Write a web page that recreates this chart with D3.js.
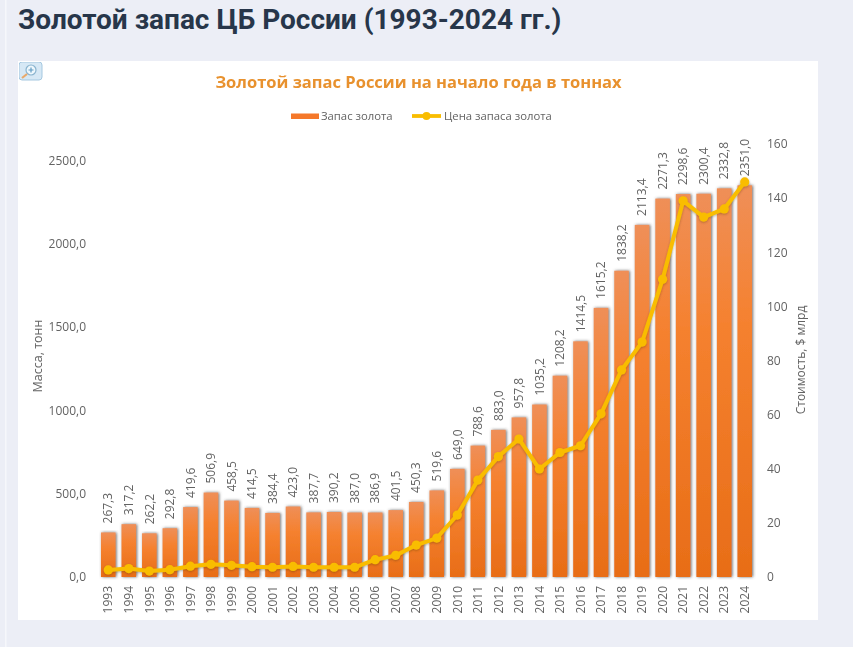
<!DOCTYPE html>
<html>
<head>
<meta charset="utf-8">
<script src="https://cdn.jsdelivr.net/npm/d3@7"></script>
<style>
  html, body { margin: 0; padding: 0; background: #eceef6; overflow: hidden; }
  svg { display: block; }
  text { font-family: "Open Sans", sans-serif; }
</style>
</head>
<body>
<div id="chart"></div>
<script>
var years = [1993, 1994, 1995, 1996, 1997, 1998, 1999, 2000, 2001, 2002, 2003, 2004, 2005, 2006, 2007, 2008,
    2009, 2010, 2011, 2012, 2013, 2014, 2015, 2016, 2017, 2018, 2019, 2020, 2021, 2022, 2023, 2024];
var goldTonnes = [267.3, 317.2, 262.2, 292.8, 419.6, 506.9, 458.5, 414.5, 384.4, 423.0, 387.7, 390.2, 387.0, 386.9, 401.5, 450.3,
    519.6, 649.0, 788.6, 883.0, 957.8, 1035.2, 1208.2, 1414.5, 1615.2, 1838.2, 2113.4, 2271.3, 2298.6, 2300.4, 2332.8, 2351.0];
var goldValue = [2.6, 3.1, 2.2, 2.7, 4.0, 4.7, 4.3, 3.8, 3.6, 3.9, 3.6, 3.6, 3.6, 6.4, 8.0, 11.8,
    14.4, 22.9, 35.8, 44.5, 51.0, 39.9, 46.0, 48.5, 60.3, 76.5, 86.8, 110.0, 139.0, 133.0, 136.0, 146.0];
var leftTicks = [0, 500, 1000, 1500, 2000, 2500];
var rightTicks = [0, 20, 40, 60, 80, 100, 120, 140, 160];

var pageTitle = "Золотой запас ЦБ России (1993-2024 гг.)";
var chartTitle = "Золотой запас России на начало года в тоннах";
var barName = "Запас золота";
var lineName = "Цена запаса золота";
var leftTitle = "Масса, тонн";
var rightTitle = "Стоимость, $ млрд";

var width = 853, height = 647;
var baseY = 577;
var textColor = "#636363";

function commaFixed(v) {
    return d3.format(".1f")(v).replace(".", ",");
}

var svg = d3.select("#chart").append("svg")
    .attr("width", width)
    .attr("height", height);

var defs = svg.append("defs");

var grad = defs.append("linearGradient")
    .attr("id", "barFill")
    .attr("x1", 0).attr("y1", 0).attr("x2", 0).attr("y2", 1);
grad.append("stop").attr("offset", "0%").attr("stop-color", "#ef8f58");
grad.append("stop").attr("offset", "35%").attr("stop-color", "#f5812f");
grad.append("stop").attr("offset", "100%").attr("stop-color", "#e86d17");

var shadow = defs.append("filter")
    .attr("id", "barShadow")
    .attr("x", "-40%").attr("y", "-5%").attr("width", "180%").attr("height", "110%");
shadow.append("feDropShadow")
    .attr("dx", 1).attr("dy", 0).attr("stdDeviation", 1.5)
    .attr("flood-color", "#444").attr("flood-opacity", 0.8);

var lineShadow = defs.append("filter").attr("id", "lineShadow")
    .attr("x", "-5%").attr("y", "-5%").attr("width", "110%").attr("height", "110%");
lineShadow.append("feDropShadow")
    .attr("dx", 0).attr("dy", 1).attr("stdDeviation", 1.2)
    .attr("flood-color", "#5a3a10").attr("flood-opacity", 0.4);

//The reference is a soft raster picture
defs.append("filter").attr("id", "soften")
    .attr("x", 0).attr("y", 0).attr("width", "100%").attr("height", "100%")
    .append("feGaussianBlur").attr("stdDeviation", 0.3);

//Page background
svg.append("rect").attr("width", width).attr("height", height).attr("fill", "#eceef6");
svg.append("rect").attr("x", 5).attr("y", 0).attr("width", 1.5).attr("height", height).attr("fill", "#f6f7fb");
svg.append("rect").attr("x", 18).attr("y", 61).attr("width", 800).attr("height", 559).attr("fill", "#ffffff");

svg.append("text")
    .attr("x", 18).attr("y", 29)
    .attr("fill", "#27364a")
    .style("font-family", "Roboto, sans-serif")
    .style("font-weight", 700)
    .style("font-size", "28px")
    .text(pageTitle);

var chart = svg.append("g").attr("filter", "url(#soften)");

//Zoom icon
var icon = chart.append("g").attr("transform", "translate(19,62)");
icon.append("rect").attr("width", 23).attr("height", 18).attr("rx", 3)
    .attr("fill", "#d6e8f5").attr("stroke", "#a5c8e0");
icon.append("circle").attr("cx", 12).attr("cy", 8).attr("r", 5)
    .attr("fill", "#eef7fc").attr("stroke", "#8ab4cf").attr("stroke-width", 1.2);
icon.append("path").attr("d", "M8 12L3 16").attr("stroke", "#e9a96b").attr("stroke-width", 2.2);
icon.append("path").attr("d", "M9.5 8H14.5M12 5.5V10.5").attr("stroke", "#5f9cc4").attr("stroke-width", 1.2);

//Scales
var x = d3.scaleBand().domain(years).range([98, 755]).paddingInner(0.29).paddingOuter(0.145);
var yLeft = d3.scaleLinear().domain([0, 2500]).range([baseY, 160.5]);
var yRight = d3.scaleLinear().domain([0, 160]).range([baseY, 144]);

//Titles and legend
chart.append("text")
    .attr("x", 418.5).attr("y", 88)
    .attr("text-anchor", "middle")
    .attr("fill", "#e8912d")
    .style("font-size", "16.5px")
    .style("font-weight", 700)
    .text(chartTitle);

var legend = chart.append("g").style("font-size", "11.3px").attr("fill", textColor);
legend.append("rect").attr("x", 291).attr("y", 113.5).attr("width", 28).attr("height", 5.5).attr("fill", "#f5782a");
legend.append("text").attr("x", 321).attr("y", 120).text(barName);
legend.append("line").attr("x1", 412).attr("x2", 441).attr("y1", 116).attr("y2", 116)
    .attr("stroke", "#f9bd05").attr("stroke-width", 3.8);
legend.append("circle").attr("cx", 426.5).attr("cy", 116).attr("r", 4).attr("fill", "#f9bd05");
legend.append("text").attr("x", 444).attr("y", 120).text(lineName);

//Bars
chart.append("g").selectAll("rect")
    .data(years)
    .join("rect")
    .attr("x", function (d) { return x(d); })
    .attr("y", function (d, i) { return yLeft(goldTonnes[i]); })
    .attr("width", x.bandwidth())
    .attr("height", function (d, i) { return baseY - yLeft(goldTonnes[i]); })
    .attr("fill", "url(#barFill)")
    .attr("filter", "url(#barShadow)");

//Axes
function styleAxis(g) {
    g.select(".domain").remove();
    g.selectAll(".tick line").remove();
    g.selectAll("text")
        .attr("fill", textColor)
        .style("font-size", "12px")
        .style("font-family", '"Open Sans", sans-serif');
}

chart.append("g")
    .attr("transform", "translate(95,0)")
    .call(d3.axisLeft(yLeft).tickValues(leftTicks).tickFormat(commaFixed).tickSize(0).tickPadding(9))
    .call(styleAxis);

chart.append("g")
    .attr("transform", "translate(758,0)")
    .call(d3.axisRight(yRight).tickValues(rightTicks).tickSize(0).tickPadding(9))
    .call(styleAxis);

chart.append("g")
    .attr("transform", "translate(0," + baseY + ")")
    .call(d3.axisBottom(x).tickSize(0))
    .call(styleAxis)
    .selectAll("text")
    .attr("transform", "rotate(-90)")
    .attr("text-anchor", "end")
    .attr("x", -9)
    .attr("y", 0)
    .attr("dy", "0.35em");

//Value labels
chart.append("g").selectAll("text")
    .data(years)
    .join("text")
    .attr("transform", function (d, i) {
        return "translate(" + (x(d) + x.bandwidth() / 2) + "," + (yLeft(goldTonnes[i]) - 9) + ") rotate(-90)";
    })
    .attr("dy", "0.35em")
    .attr("fill", textColor)
    .style("font-size", "12px")
    .text(function (d, i) { return commaFixed(goldTonnes[i]); });

//Value line
var line = d3.line()
    .x(function (d, i) { return x(years[i]) + x.bandwidth() / 2; })
    .y(function (d) { return yRight(d); });

var lineGroup = chart.append("g").attr("filter", "url(#lineShadow)");
lineGroup.append("path")
    .attr("d", line(goldValue))
    .attr("fill", "none")
    .attr("stroke", "#f9bd05")
    .attr("stroke-width", 4)
    .attr("stroke-linejoin", "round");
lineGroup.selectAll("circle")
    .data(goldValue)
    .join("circle")
    .attr("cx", function (d, i) { return x(years[i]) + x.bandwidth() / 2; })
    .attr("cy", function (d) { return yRight(d); })
    .attr("r", 4.6)
    .attr("fill", "#f9bd05");

//Axis titles
chart.append("text")
    .attr("transform", "translate(38,356) rotate(-90)")
    .attr("text-anchor", "middle")
    .attr("dy", "0.35em")
    .attr("fill", textColor)
    .style("font-size", "12.5px")
    .text(leftTitle);

chart.append("text")
    .attr("transform", "translate(801,360) rotate(-90)")
    .attr("text-anchor", "middle")
    .attr("dy", "0.35em")
    .attr("fill", textColor)
    .style("font-size", "12px")
    .text(rightTitle);
</script>
</body>
</html>
